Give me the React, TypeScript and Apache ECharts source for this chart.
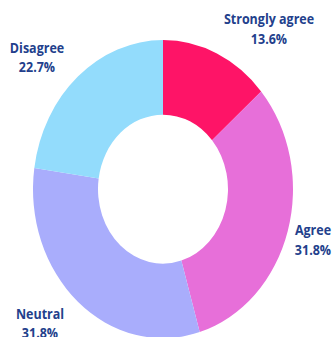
import React, { useEffect, useRef } from "react";
import * as echarts from "echarts";

const categories = ["Strongly agree", "Agree", "Neutral", "Disagree"];
const values = [13.6, 31.8, 31.8, 22.7];
const colors = ["#fe1467", "#e76fd9", "#a9adfc", "#93dcfc"];

// label centres (in the chart's own, unstretched coordinates)
const labelCenters: [number, number][] = [
  [269, 25],
  [313, 209],
  [40, 282],
  [37, 50],
];

const W = 332;
const H = 294;
const STRETCH = 337 / H;

export default function App() {
  const ref = useRef<HTMLDivElement>(null);
  useEffect(() => {
    if (!ref.current) return;
    const chart = echarts.init(ref.current, undefined, { renderer: "svg" });
    chart.setOption({
      animation: false,
      backgroundColor: "#ffffff",
      series: [
        {
          type: "pie",
          center: [163, 165],
          radius: [65, 130],
          startAngle: 90,
          clockwise: true,
          avoidLabelOverlap: false,
          label: {
            show: true,
            position: "outside",
            formatter: (p: any) => `${p.name}\n${p.value.toFixed(1)}%`,
            color: "#233f8c",
            fontFamily: "Open Sans",
            fontWeight: "bold",
            fontSize: 12.5,
            lineHeight: 17,
            align: "center",
          },
          labelLine: { show: false },
          labelLayout: (params: any) => {
            const c = labelCenters[params.dataIndex];
            return { x: c[0], y: c[1], align: "center", verticalAlign: "middle" };
          },
          itemStyle: { borderWidth: 0 },
          emphasis: { disabled: true },
          data: categories.map((name, i) => ({
            name,
            value: values[i],
            itemStyle: { color: colors[i] },
          })),
        },
      ],
    });
    return () => chart.dispose();
  }, []);
  return (
    <div
      ref={ref}
      style={{
        position: "absolute",
        left: 0,
        top: 0,
        width: W,
        height: H,
        transform: `scaleY(${STRETCH})`,
        transformOrigin: "0 0",
      }}
    />
  );
}
